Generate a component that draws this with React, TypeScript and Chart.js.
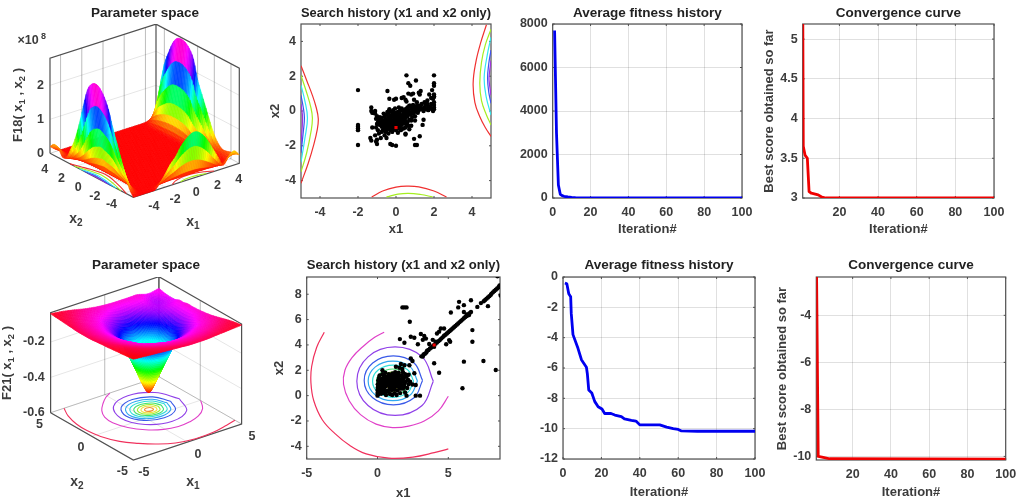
import { useEffect, useRef } from "react";
import { Chart, registerables } from "chart.js";
Chart.register(...registerables);

const FONT = '"Liberation Sans", Arial, sans-serif';
const INK = "#3c3c3c";
type P = [number, number];

/* ---------- data ---------- */
const f18Axis = [-5,-4.5,-4,-3.5,-3,-2.5,-2,-1.5,-1,-.5,0,.5,1,1.5,2,2.5,3,3.5,4,4.5,5];
const f18Grid: number[][] = [
  [0,0,0,0,0,.15,.38,.62,.8,1.05,1.22,1.33,1.33,1.2,.98,.68,.38,.1,.3,.42,.25],
  [.2,.05,0,0,0,.02,.04,.07,.1,.12,.14,.15,.15,.14,.11,.08,.04,.03,.08,.2,.22],
  [.55,.16,.01,0,0,0,0,0,0,0,0,0,0,0,0,0,0,.01,.01,.06,.2],
  [.95,.28,.02,0,0,0,0,0,0,0,0,0,0,0,0,0,0,0,.01,.05,.16],
  [1.35,.4,.03,0,0,0,0,0,0,0,0,0,0,0,0,0,0,0,.01,.05,.15],
  [1.75,.52,.04,0,0,0,0,0,0,0,0,0,0,0,0,0,0,0,.01,.08,.25],
  [2.2,.66,.05,0,0,0,0,0,0,0,0,0,0,0,0,0,0,0,.02,.14,.45],
  [2.5,.75,.06,0,0,0,0,0,0,0,0,0,0,0,0,0,0,0,.04,.23,.75],
  [2.68,.8,.06,0,0,0,0,0,0,0,0,0,0,0,0,0,0,0,.05,.34,1.1],
  [2.75,.85,.07,0,0,0,0,0,0,0,0,0,0,0,0,0,0,0,.07,.45,1.45],
  [2.68,.8,.06,0,0,0,0,0,0,0,0,0,0,0,0,0,0,0,.09,.56,1.8],
  [2.45,.72,.05,0,0,0,0,0,0,0,0,0,0,0,0,0,0,0,.12,.72,2.35],
  [1.9,.57,.04,0,0,0,0,0,0,0,0,0,0,0,0,0,0,0,.13,.8,2.6],
  [1.3,.39,.03,0,0,0,0,0,0,0,0,0,0,0,0,0,0,0,.14,.84,2.72],
  [.8,.24,.02,0,0,0,0,0,0,0,0,0,0,0,0,0,0,0,.14,.85,2.75],
  [.45,.14,.01,0,0,0,0,0,0,0,0,0,0,0,0,0,0,0,.13,.84,2.7],
  [.15,.05,0,0,0,0,0,0,0,0,0,0,0,0,0,0,0,0,.12,.78,2.5],
  [.08,.03,0,0,0,0,0,0,0,0,0,0,0,0,0,0,0,0,.11,.67,2.15],
  [.28,.1,.01,0,0,0,0,0,0,0,0,0,0,0,0,0,0,0,.09,.54,1.75],
  [.33,.12,.01,0,0,0,0,0,0,0,0,0,0,0,0,0,0,0,.05,.33,1.05],
  [.2,.07,0,0,0,0,0,0,0,0,0,0,0,0,0,0,0,0,.01,.06,.2],
];
const f21Axis = [-5,-4,-3,-2,-1,-.5,0,.5,1,1.5,2,2.5,3,4,5];
const f21Grid: number[][] = [
  [-.03,-.035,-.04,-.045,-.049,-.051,-.054,-.055,-.055,-.055,-.054,-.051,-.049,-.045,-.04],
  [-.035,-.042,-.048,-.057,-.066,-.07,-.072,-.073,-.074,-.073,-.072,-.07,-.066,-.057,-.048],
  [-.04,-.048,-.06,-.074,-.085,-.089,-.092,-.094,-.095,-.094,-.092,-.089,-.085,-.074,-.06],
  [-.045,-.057,-.074,-.09,-.103,-.112,-.121,-.127,-.129,-.127,-.121,-.112,-.103,-.09,-.074],
  [-.049,-.066,-.085,-.103,-.137,-.156,-.18,-.197,-.206,-.197,-.18,-.156,-.137,-.103,-.085],
  [-.051,-.07,-.089,-.112,-.156,-.191,-.238,-.27,-.283,-.27,-.238,-.191,-.156,-.112,-.089],
  [-.054,-.072,-.092,-.121,-.18,-.238,-.296,-.342,-.36,-.342,-.296,-.238,-.18,-.121,-.092],
  [-.055,-.073,-.094,-.127,-.197,-.27,-.342,-.41,-.446,-.41,-.342,-.27,-.197,-.127,-.094],
  [-.055,-.074,-.095,-.129,-.206,-.283,-.36,-.446,-.5,-.446,-.36,-.283,-.206,-.129,-.095],
  [-.055,-.073,-.094,-.127,-.197,-.27,-.342,-.41,-.446,-.41,-.342,-.27,-.197,-.127,-.094],
  [-.054,-.072,-.092,-.121,-.18,-.238,-.296,-.342,-.36,-.342,-.296,-.238,-.18,-.125,-.1],
  [-.051,-.07,-.089,-.112,-.156,-.191,-.238,-.27,-.283,-.27,-.238,-.191,-.156,-.122,-.1],
  [-.049,-.066,-.085,-.103,-.137,-.156,-.18,-.197,-.206,-.197,-.18,-.156,-.14,-.125,-.11],
  [-.045,-.057,-.074,-.09,-.103,-.112,-.121,-.127,-.129,-.127,-.121,-.118,-.115,-.13,-.11],
  [-.04,-.048,-.06,-.074,-.085,-.089,-.092,-.094,-.095,-.095,-.095,-.095,-.095,-.11,-.1],
];

const f18Contours: { color: string; pts: P[] }[] = [
  { color: "#f03030", pts: [[-5,2.6],[-4.68,1.7],[-4.4,.9],[-4.2,.2],[-4.09,-.45],[-4.15,-1.1],[-4.32,-1.9],[-4.62,-3],[-5,-4.15]] },
  { color: "#a5ee20", pts: [[-5,2.05],[-4.7,1.05],[-4.48,.2],[-4.4,-.4],[-4.46,-1.1],[-4.7,-2.4],[-5,-3.5]] },
  { color: "#30e8f0", pts: [[-5,1.48],[-4.8,.6],[-4.66,-.4],[-4.8,-1.6],[-5,-2.95]] },
  { color: "#3f50f0", pts: [[-5,.9],[-4.88,.2],[-4.82,-.4],[-4.88,-1.2],[-5,-2.4]] },
  { color: "#a030e0", pts: [[-5,.4],[-4.92,-.4],[-5,-1.9]] },
  { color: "#f03030", pts: [[4.76,4.96],[4.45,3.9],[4.2,2.8],[4.06,1.6],[4.15,.5],[4.4,-.3],[4.7,-.95],[5,-1.46]] },
  { color: "#a5ee20", pts: [[5,4.7],[4.7,3.8],[4.5,2.8],[4.41,1.6],[4.5,.6],[4.75,-.2],[5,-.8]] },
  { color: "#30e8f0", pts: [[5,4.24],[4.8,3.2],[4.64,1.9],[4.75,.8],[5,-.23]] },
  { color: "#3f50f0", pts: [[5,3.5],[4.88,2.7],[4.82,1.9],[4.88,1.1],[5,.44]] },
  { color: "#a030e0", pts: [[5,2.9],[4.92,2.2],[4.9,1.77],[5,.9]] },
  { color: "#f03030", pts: [[-1.28,-4.94],[-.7,-4.6],[0,-4.38],[.56,-4.32],[1.2,-4.36],[2,-4.6],[2.66,-4.94]] },
  { color: "#a5ee20", pts: [[-.5,-4.94],[.1,-4.78],[.65,-4.73],[1.3,-4.8],[1.93,-4.94]] },
];

const ring = (xs: number[], ys: number[]): P[] => xs.map((x, i) => [x, ys[i]] as P);
const f21Contours: { color: string; pts: P[] }[] = [
  { color: "#f0305c", pts: [[-3.76,5],[-4.3,3.8],[-4.65,2.3],[-4.7,1],[-4.5,-.4],[-3.9,-1.9],[-3,-3],[-2,-3.9],[-.8,-4.6],[.8,-4.93],[2.5,-4.85],[4,-4.5],[5,-4.2]] },
  { color: "#e040c8", pts: [[5,-.05],[4.3,-1.2],[3.3,-2],[2.2,-2.4],[1.06,-2.52],[-.1,-2.25],[-1.2,-1.5],[-2,-.4],[-2.4,.9],[-2.3,2],[-1.8,3],[-1,3.9],[-.2,4.6],[.47,5]] },
  { color: "#9040e8", pts: ring([3.94,3.15,1.24,-.67,-1.46,-.67,1.24,3.15,3.94],[1.14,3.06,3.84,3.06,1.14,-.78,-1.56,-.78,1.14]) },
  { color: "#3a5ae8", pts: ring([3.18,2.58,1.12,-.34,-.94,-.34,1.12,2.58,3.18],[1.2,2.57,3.13,2.57,1.2,-.17,-.73,-.17,1.2]) },
  { color: "#30a8f0", pts: ring([2.82,2.31,1.08,-.15,-.66,-.15,1.08,2.31,2.82],[1.16,2.27,2.72,2.27,1.16,.05,-.4,.05,1.16]) },
  { color: "#30e0d8", pts: ring([2.55,2.13,1.1,.07,-.35,.07,1.1,2.13,2.55],[1.14,2.04,2.41,2.04,1.14,.24,-.13,.24,1.14]) },
  { color: "#40e070", pts: ring([2.23,1.9,1.08,.26,-.07,.26,1.08,1.9,2.23],[1.1,1.81,2.1,1.81,1.1,.39,.1,.39,1.1]) },
  { color: "#a0ee30", pts: ring([1.96,1.7,1.08,.46,.2,.46,1.08,1.7,1.96],[1.08,1.63,1.85,1.63,1.08,.53,.31,.53,1.08]) },
  { color: "#f0e040", pts: ring([1.7,1.52,1.08,.64,.46,.64,1.08,1.52,1.7],[1.06,1.45,1.61,1.45,1.06,.67,.51,.67,1.06]) },
  { color: "#f09030", pts: ring([1.43,1.33,1.08,.83,.73,.83,1.08,1.33,1.43],[1.06,1.27,1.36,1.27,1.06,.85,.76,.85,1.06]) },
];

const history18: P[] = [
  [-2,1.2],[-2,-.8],[-2,-.9],[-2,-1],[-2,-1.1],[-2,-1.95],[-.45,1.15],[-.35,.7],[-.1,.65],[0,.7],[.3,.75],[.4,.8],[.55,2.05],[.65,1.6],[.75,1.45],[1.05,1.75],[2,2.05],[2,1.6],[2,1.45],[1.9,1.2],[2,.95],[2,.85],[2,.8],[1.95,.7],[1.75,.95],[1.85,.75],[2,.5],[2,.35],[2,.2],[2,.1],[1.95,0],[1.85,.4],[1.7,.25],[1.3,1.15],[1.2,1.05],[1.25,.95],[.9,1],[.8,.95],[.65,1],[.95,.65],[1.1,.5],[.7,.3],[.55,.55],[.5,.65],
  [-1.3,.2],[-1.3,0],[-1.25,-.1],[-1.1,-.15],[-1.1,0],[-1.05,-.45],[-1.2,-.1],[-1.25,-.95],[-1.35,-1.55],[-1.3,-1.7],[-1.1,-1.4],[-1,-1.65],[-1,-1.9],[-1.05,-1.75],[-.9,-1.3],[-.8,-1.55],[-.75,-1.2],[-.5,-1.1],[-.4,-1.3],[-.5,-1.55],[-.6,-1.4],[-.3,-1.9],[-.2,-1.95],[0,-2],[1,-1.95],[1.1,-1.95],[.95,-1.6],[1.25,-1.45],[.5,-1.35],[.5,-1.3],[1.4,-.8],[1.45,-.5],
  [-.9,-.5],[-.85,-.8],[-.8,-.65],[-.75,-.9],[-.7,-.55],[-.7,-.75],[-.65,-1],[-.6,-.3],[-.6,-.6],[-.6,-.85],[-.55,-.45],[-.55,-.7],[-.5,-.95],[-.5,-.2],[-.5,-.6],[-.45,-.8],[-.4,-.1],[-.4,-.35],[-.4,-.55],[-.4,-.75],[-.4,-1],[-.35,-.9],[-.3,-.25],[-.3,-.45],[-.3,-.65],[-.3,-.85],[-.3,-1.1],[-.25,-.05],[-.2,-.3],[-.2,-.55],[-.2,-.75],[-.2,-.95],[-.2,-1.2],[-.15,-.15],[-.1,-.4],[-.1,-.6],[-.1,-.85],[-.1,-1.05],[-.05,-.25],[0,-.1],[0,-.35],[0,-.5],[0,-.7],[0,-.85],[0,-1.1],[.05,-.2],[.1,-.05],[.1,-.4],[.1,-.6],[.1,-.8],[.1,-1],[.1,-1.25],[.15,-.3],[.2,0],[.2,-.15],[.2,-.5],[.2,-.7],[.2,-.9],[.25,-1.1],[.3,-.25],[.3,-.4],[.3,-.6],[.3,-.8],[.35,.05],[.4,-.1],[.4,-.3],[.4,-.5],[.4,-.7],[.4,-1],[.45,-.2],[.5,.1],[.5,-.05],[.5,-.4],[.5,-.6],[.55,-.8],[.6,-.15],[.6,-.3],[.65,.05],[.7,-.05],[.7,-.5],[.75,-.2],[.8,.15],[.8,-.1],[.85,-.35],[.9,.05],[.9,-.15],[.95,.2],[1,0],[1,-.05],[1,-.3],[1.05,.2],[1.1,.1],[1.15,-.1],[1.2,.3],[1.2,.05],[1.25,.2],[1.3,.3],[1.35,.1],[1.4,.15],[1.45,0],[1.5,.2],[1.55,.35],[1.6,.1],[1.65,.4],[1.7,.05],[.8,-.85],[.7,-1.05],[.5,-.95],[-1,-.75],[-1.05,-.95],[-.95,-1.1],
  [-1,-.3],[-.95,-.65],[-.85,-.35],[-.75,-.4],[-.65,-.15],[-.7,-1.1],[-.55,-1.2],[-.45,-.05],[-.35,.1],[-.15,.05],[-.05,.15],[.15,.2],[.3,.15],[.6,.2],[.75,.3],[.9,.35],[1.1,.3],[1.35,.4],[1.5,.5],[1.65,.6],[1.8,.2],[1.9,.1],[.3,-1.05],[.6,-.65],[.8,-.55],[1,-.55],[.65,-.85],
];
const best18: P[] = [[0,-.95]];

const history21: P[] = [
  [8.47,9.42],[8.7,7.9],[7.8,7.06],[6.6,7.53],[5.76,7.4],[6.1,7.14],[5.7,6.96],[6.1,6.6],[5.18,6.56],[1.76,6.96],[2.05,6.96],[1.9,6.96],[2.28,5.83],[6.7,5.17],[6.7,4.25],[4.47,5.3],[4.7,5.3],[4.35,5.05],[4.2,4.9],[2.35,4.65],[2.6,4.57],[3.06,4.86],[3.3,4.7],[3.42,4.5],[3.2,4.4],[2.85,4.05],[1.58,4.46],[1.9,4.17],[3.9,4.4],[3.65,4.07],[4,3.85],[4.85,4.05],[5.06,4.38],[5.13,4.25],[4.1,4.25],[6.1,2.68],[7.48,2.73],[8.35,2.02],[6,.58],[4,2.55],[4.35,1.8],[2.35,2.94],[2.47,2.73],[1.65,2.5],[1.9,2.4],[2.25,2.4],[1.3,2.28],[.35,2],[2.6,1.76],[2.7,.84],[2.47,.88],[2.7,0],[3,0],[2.05,0],[0,0],[.05,.1],[.05,.3],[.1,.5],
  [3.1,3.1],[3.2,3.08],[3.25,3.25],[3.35,3.3],[3.45,3.4],[3.5,3.55],[3.6,3.6],[3.7,3.72],[3.8,3.8],[3.9,3.9],[4,4],[4.1,4.1],[4.2,4.2],[4.3,4.3],[4.4,4.38],[4.5,4.5],[4.6,4.6],[4.7,4.72],[4.8,4.8],[4.9,4.9],[5,5],[5.1,5.1],[5.2,5.2],[5.3,5.3],[5.4,5.4],[5.5,5.5],[5.6,5.6],[5.7,5.7],[5.8,5.8],[5.9,5.9],[6,6],[6.1,6.1],[6.2,6.2],[6.3,6.28],[6.4,6.4],[6.5,6.5],[6.6,6.6],[6.45,6.35],[6.3,6.4],[7.05,7],[7.3,7.3],[7.5,7.45],[7.6,7.55],[7.7,7.65],[7.8,7.75],[7.9,7.85],[8,7.95],[8.05,8.05],[8.15,8.15],[8.25,8.25],[8.35,8.35],[8.45,8.45],[8.55,8.55],[8.62,8.7],
  [.1,.7],[.1,.9],[.15,1.1],[.2,.4],[.2,.6],[.25,.85],[.25,1.05],[.3,1.3],[.3,.3],[.35,.55],[.35,.75],[.4,.95],[.4,1.15],[.4,1.4],[.45,.45],[.5,.65],[.5,.85],[.5,1.05],[.5,1.25],[.55,1.45],[.6,.75],[.6,.95],[.6,1.15],[.6,1.35],[.65,.35],[.7,.85],[.7,1.05],[.7,1.25],[.7,1.5],[.75,1.4],[.8,.95],[.8,1.15],[.8,1.3],[.85,.7],[.85,1.5],[.9,1.05],[.9,1.2],[.95,.85],[.95,1.4],[1,1],[1,1.15],[1,1.3],[1.05,.05],[1.05,.7],[1.1,1.05],[1.1,1.25],[1.15,.9],[1.15,1.45],[1.2,1.1],[1.2,1.3],[1.25,.75],[1.3,1],[1.3,1.2],[1.3,1.55],[1.35,.05],[1.4,.95],[1.4,1.4],[1.45,1.15],[1.5,.7],[1.5,1.55],[1.55,1.05],[1.6,1.3],[1.65,.9],[1.7,1.6],[1.75,1.15],[1.8,.55],[1.85,1.35],[1.9,.95],[1.95,.25],[2,1.1],[2.05,1.5],[2.1,.6],[2.15,1.25],[.6,.05],[.85,.15],[1.6,.2],[1.2,.2],[.95,.1],[1.55,2.2],[1.75,2.1],
  [0,.2],[0,.45],[.02,.65],[.02,.9],[.05,1.2],[.1,1.4],[.15,1.6],[.35,1.7],[.55,1.8],[.8,1.7],[1.05,1.75],[1.25,1.85],[1.5,1.8],[1.8,1.85],[1.95,1.7],[2.2,1.65],[.25,.15],[.45,.2],[.75,.4],[1,.45],[1.2,.5],[1.4,.4],[1.6,.55],[1.75,.8],[1.9,.7],[2.2,.9],[2.3,1.1],[.9,.55],[1.35,.75],[1.6,.85],[1.8,1.45],[1.45,1.65],[1.1,1.6],[.95,1.6],[.5,1.55],
];
const best21: P[] = [[4,4]];

const fitIter1 = [1,2,3,4,5,6,8,10,12,15,20,30,100];
const fitVal1 = [7700,3000,600,170,110,80,50,30,14,5,2,1,0];
const convIter1 = [1,1.3,2.2,3.4,4.3,5.5,9,11,13,100];
const convVal1 = [5.6,3.65,3.54,3.5,3.08,3.06,3.04,3.01,3,3];
const fitIter2 = [1,2,3,4,4.3,5.2,7.8,9.6,12.2,12.7,13.4,15,16.5,18.3,20.3,21.7,25,27,30.4,32,35.6,38,40,50.4,54,57.4,60,61.7,70,100];
const fitVal2 = [-.4,-.45,-1.1,-1.3,-2.4,-3.8,-4.7,-5.45,-5.95,-6.4,-7.45,-7.65,-8.2,-8.55,-8.7,-9,-9,-9.1,-9.2,-9.35,-9.45,-9.5,-9.75,-9.75,-9.9,-10,-10.05,-10.15,-10.17,-10.17];
const convIter2 = [1,2,4,8,100];
const convVal2 = [-1,-10,-10.03,-10.1,-10.12];

const xyTicks = [-4,-2,0,2,4];
const iterTicks = [0,20,40,60,80,100];
const iterTicksNoZero = [20,40,60,80,100];

/* ---------- shared drawing helpers ---------- */
const zip = (a: number[], b: number[]) => a.map((x, i) => ({ x, y: b[i] }));
const frame = {
  id: "frame",
  beforeDatasetsDraw(chart: any) {
    const { ctx, chartArea: a, scales } = chart;
    ctx.save();
    ctx.strokeStyle = "#505050";
    ctx.lineWidth = 1.2;
    ctx.strokeRect(a.left, a.top, a.right - a.left, a.bottom - a.top);
    ctx.lineWidth = 1;
    ctx.beginPath();
    for (const t of scales.x.ticks) {
      const p = scales.x.getPixelForValue(t.value);
      ctx.moveTo(p, a.bottom); ctx.lineTo(p, a.bottom - 2);
      ctx.moveTo(p, a.top); ctx.lineTo(p, a.top + 2);
    }
    for (const t of scales.y.ticks) {
      const p = scales.y.getPixelForValue(t.value);
      ctx.moveTo(a.left, p); ctx.lineTo(a.left + 2, p);
      ctx.moveTo(a.right, p); ctx.lineTo(a.right - 2, p);
    }
    ctx.stroke();
    ctx.restore();
  },
};

const titleOpts = (text: string, top: number, titleCy: number, plotTop: number) => ({
  display: true, text, color: "#222", fullSize: false,
  font: { family: FONT, size: 13.5, weight: "bold" as const },
  padding: { top: titleCy - top - 8.1, bottom: plotTop - titleCy - 8.1 },
});

interface Panel2D {
  title: string; L: number; R: number; T: number; B: number; canvasTop: number; titleCy: number;
  xMin: number; xMax: number; xTicks: number[]; xTitle: string; xTitleCy: number;
  yMin: number; yMax: number; yTicks: number[]; yTitle?: string; yTitleX?: number;
  grid: boolean; datasets: any[];
}

function Chart2D({ p }: { p: Panel2D }) {
  const ref = useRef<HTMLCanvasElement>(null);
  const cl = Math.round(p.yTitleX !== undefined ? p.yTitleX - 7.8 : p.L - 50);
  const xH = p.xTitleCy - p.B + 7.8;
  const cw = Math.ceil(p.R + 26 - cl);
  const ch = Math.ceil(p.B + xH) - p.canvasTop;
  useEffect(() => {
    const scale = (min: number, max: number, ticks: number[], title: string | undefined, fit: (s: any) => void, pad: number) => ({
      type: "linear" as const, min, max,
      afterBuildTicks: (s: any) => { s.ticks = ticks.map((value) => ({ value })); },
      afterFit: fit,
      border: { display: false },
      grid: { display: p.grid, drawTicks: false, color: "rgba(0,0,0,0.12)", lineWidth: 1 },
      ticks: {
        color: INK, padding: pad, autoSkip: false, maxRotation: 0,
        font: { family: FONT, size: 12.5, weight: "bold" as const },
        callback: (v: any) => String(v),
      },
      title: {
        display: !!title, text: title, color: INK, padding: 0,
        font: { family: FONT, size: 13, weight: "bold" as const },
      },
    });
    const c = new Chart(ref.current!, {
      type: "scatter",
      data: { datasets: p.datasets },
      plugins: [frame],
      options: {
        animation: false, responsive: false,
        layout: { autoPadding: false, padding: { left: 0, top: 0, right: cl + cw - p.R, bottom: p.canvasTop + ch - p.B - xH } },
        plugins: { legend: { display: false }, tooltip: { enabled: false }, title: titleOpts(p.title, p.canvasTop, p.titleCy, p.T) },
        scales: {
          x: scale(p.xMin, p.xMax, p.xTicks, p.xTitle, (s) => { s.height = xH; }, 7),
          y: scale(p.yMin, p.yMax, p.yTicks, p.yTitle, (s) => { s.width = p.L - cl; }, 5),
        },
      } as any,
    });
    return () => c.destroy();
  }, []);
  return <canvas ref={ref} width={cw} height={ch} style={{ position: "absolute", left: cl, top: p.canvasTop, width: cw, height: ch }} />;
}

/* ---------- 3D panels: a height table seen through the chart's x / y scales ---------- */
function catmull(a: number, b: number, c: number, d: number, t: number) {
  return 0.5 * (2 * b + (c - a) * t + (2 * a - 5 * b + 4 * c - d) * t * t + (3 * b - a - 3 * c + d) * t * t * t);
}
function sample(g: number[][], v: number, u: number, lo: number, hi: number) {
  const r = g.length - 1, c = g[0].length - 1;
  const i = Math.min(Math.floor(v), r - 1), j = Math.min(Math.floor(u), c - 1);
  const at = (a: number, b: number): number => {
    if (a < 0) return 2 * at(0, b) - at(1, b);
    if (a > r) return 2 * at(r, b) - at(r - 1, b);
    if (b < 0) return 2 * at(a, 0) - at(a, 1);
    if (b > c) return 2 * at(a, c) - at(a, c - 1);
    return g[a][b];
  };
  const row = (k: number) => catmull(at(k, j - 1), at(k, j), at(k, j + 1), at(k, j + 2), u - j);
  const z = catmull(row(i - 1), row(i), row(i + 1), row(i + 2), v - i);
  return Math.max(lo, Math.min(hi, z));
}
function coordAt(axis: number[], t: number) {
  const i = Math.min(Math.floor(t), axis.length - 2);
  return axis[i] + (axis[i + 1] - axis[i]) * (t - i);
}

function rich(ctx: any, parts: [string, boolean][], x: number, y: number, rot: number, size: number) {
  ctx.save();
  ctx.translate(x, y);
  ctx.rotate(rot);
  ctx.fillStyle = INK;
  ctx.textBaseline = "middle";
  ctx.textAlign = "left";
  const fontOf = (sub: boolean) => `bold ${sub ? size * 0.72 : size}px ${FONT}`;
  let w = 0;
  for (const [s, sub] of parts) { ctx.font = fontOf(sub); w += ctx.measureText(s).width; }
  let cx = -w / 2;
  for (const [s, sub] of parts) {
    ctx.font = fontOf(sub);
    ctx.fillText(s, cx, sub ? size * 0.32 : 0);
    cx += ctx.measureText(s).width;
  }
  ctx.restore();
}

function Chart3D({ p }: { p: any }) {
  const ref = useRef<HTMLCanvasElement>(null);
  useEffect(() => {
    const plotTop = p.plotTop;
    const proj = (x1: number, x2: number, z: number) => ({
      x: p.F[0] + (x1 + 5) * p.ax[0] + (x2 + 5) * p.bx[0],
      y: p.F[1] + (x1 + 5) * p.ax[1] + (x2 + 5) * p.bx[1] - (z - p.z0) * p.zK,
    });
    const gap = { x: NaN, y: NaN };
    const seg = (...pts: { x: number; y: number }[]) => [...pts, gap];
    const { z0, zTop } = p;
    const dark = [
      ...seg(proj(-5,5,z0), proj(-5,-5,z0), proj(5,-5,z0), proj(5,-5,zTop), proj(5,5,zTop), proj(-5,5,zTop), proj(-5,5,z0)),
      ...seg(proj(5,5,zTop), proj(5,5,z0)),
    ];
    const light: any[] = [...seg(proj(-5,5,z0), proj(5,5,z0), proj(5,-5,z0))];
    for (const t of p.gridTicks) {
      light.push(...seg(proj(t,5,zTop), proj(t,5,z0), proj(t,-5,z0)));
      light.push(...seg(proj(5,t,zTop), proj(5,t,z0), proj(-5,t,z0)));
    }
    for (const z of p.zTicks) light.push(...seg(proj(-5,5,z), proj(5,5,z), proj(5,-5,z)));

    const rows = (p.grid.length - 1) * p.sub + 1, cols = (p.grid[0].length - 1) * p.sub + 1;
    const verts: { x: number; y: number; z: number }[] = [];
    for (let i = 0; i < rows; i++) {
      for (let j = 0; j < cols; j++) {
        const z = sample(p.grid, i / p.sub, j / p.sub, p.hueLo, p.hueHi);
        verts.push({ ...proj(coordAt(p.axis, j / p.sub), coordAt(p.axis, i / p.sub), z), z });
      }
    }
    const surface = {
      id: "surface",
      afterDatasetsDraw(chart: any) {
        const { ctx, scales: { x: X, y: Y } } = chart;
        const px = (k: number) => [X.getPixelForValue(verts[k].x), Y.getPixelForValue(verts[k].y)];
        ctx.save();
        ctx.lineWidth = 0.6;
        ctx.lineJoin = "round";
        for (let i = rows - 2; i >= 0; i--) {
          for (let j = cols - 2; j >= 0; j--) {
            const a = i * cols + j, b = a + 1, c = a + cols + 1, d = a + cols;
            const z = (verts[a].z + verts[b].z + verts[c].z + verts[d].z) / 4;
            const hue = (360 * (z - p.hueLo)) / (p.hueHi - p.hueLo);
            const col = `hsl(${hue},100%,50%)`;
            ctx.fillStyle = col; ctx.strokeStyle = col;
            ctx.beginPath();
            for (const k of [a, b, c, d]) { const [u, v] = px(k); ctx.lineTo(u, v); }
            ctx.closePath(); ctx.fill(); ctx.stroke();
          }
        }
        ctx.restore();
        const put = (s: string, q: { x: number; y: number }, dx: number, dy: number, align: string) => {
          ctx.save();
          ctx.font = `bold 12.5px ${FONT}`; ctx.fillStyle = INK; ctx.textAlign = align; ctx.textBaseline = "middle";
          ctx.fillText(s, X.getPixelForValue(q.x) + dx, Y.getPixelForValue(q.y) + dy);
          ctx.restore();
        };
        for (const t of p.x1Labels) put(String(t), proj(t, -5, z0), p.x1Off[0], p.x1Off[1], "center");
        for (const t of p.x2Labels) put(String(t), proj(-5, t, z0), p.x2Off[0], p.x2Off[1], "center");
        for (const t of p.zTicks) put(p.zFmt(t), proj(-5, 5, t), p.zLabelX, 0, "right");
        const ox = p.canvasTop;
        if (p.multiplier) {
          rich(ctx, [["×10", false]], 28, 41 - ox, 0, 12.5);
          ctx.save(); ctx.font = `bold 9px ${FONT}`; ctx.fillStyle = INK; ctx.textBaseline = "middle"; ctx.fillText("8", 41, 37 - ox); ctx.restore();
        }
        rich(ctx, [["x", false], ["1", true]], p.x1Name[0], p.x1Name[1] - ox, 0, 14);
        rich(ctx, [["x", false], ["2", true]], p.x2Name[0], p.x2Name[1] - ox, 0, 14);
        rich(ctx, [[p.zFn + "( x", false], ["1", true], [" , x", false], ["2", true], [" )", false]], p.zName[0], p.zName[1] - ox, -Math.PI / 2, 13);
      },
    };
    const line = (data: any[], color: string, width: number, tension = 0) => ({
      data, showLine: true, borderColor: color, borderWidth: width, pointRadius: 0, tension, spanGaps: false,
    });
    const c = new Chart(ref.current!, {
      type: "scatter",
      data: {
        datasets: [
          ...p.contours.map((k: any) => line(k.pts.map(([a, b]: P) => proj(a, b, z0)), k.color, 1.1, 0.4)),
          line(dark, "#505050", 1.2),
          line(light, "rgba(0,0,0,0.1)", 1),
          { label: "surface", data: verts, showLine: false, pointRadius: 0 },
        ],
      },
      plugins: [surface],
      options: {
        animation: false, responsive: false,
        layout: { autoPadding: false, padding: 0 },
        plugins: { legend: { display: false }, tooltip: { enabled: false }, title: titleOpts(p.title, p.canvasTop, p.titleCy, plotTop) },
        scales: {
          x: { type: "linear", display: false, min: 0, max: p.width },
          y: { type: "linear", display: false, reverse: true, min: plotTop, max: p.canvasTop + p.height },
        },
      } as any,
    });
    return () => c.destroy();
  }, []);
  return <canvas ref={ref} width={p.width} height={p.height} style={{ position: "absolute", left: 0, top: p.canvasTop, width: p.width, height: p.height }} />;
}

/* ---------- panels ---------- */
const scatterSets = (contours: { color: string; pts: P[] }[], hist: P[], best: P[]) => [
  { data: best.map(([x, y]) => ({ x, y })), pointStyle: "rect", pointRadius: 2.2, pointBackgroundColor: "#f00000", pointBorderWidth: 0 },
  { data: hist.map(([x, y]) => ({ x, y })), pointRadius: 2.2, pointBackgroundColor: "#000", pointBorderWidth: 0 },
  ...contours.map((k) => ({ data: k.pts.map(([x, y]) => ({ x, y })), showLine: true, borderColor: k.color, borderWidth: 1.2, pointRadius: 0, tension: 0.4 })),
];
const curve = (xs: number[], ys: number[], color: string) => [{ data: zip(xs, ys), showLine: true, borderColor: color, borderWidth: 2.8, pointRadius: 0, tension: 0, borderJoinStyle: "round" }];

const panels2D: Panel2D[] = [
  { title: "Search history (x1 and x2 only)", L: 301, R: 491, T: 24, B: 198, canvasTop: 0, titleCy: 13, xMin: -5, xMax: 5, xTicks: xyTicks, xTitle: "x1", xTitleCy: 229, yMin: -5, yMax: 5, yTicks: xyTicks, yTitle: "x2", yTitleX: 275.7, grid: false, datasets: scatterSets(f18Contours, history18, best18) },
  { title: "Average fitness history", L: 552.7, R: 742, T: 24, B: 198, canvasTop: 0, titleCy: 13, xMin: 0, xMax: 100, xTicks: iterTicks, xTitle: "Iteration#", xTitleCy: 229, yMin: 0, yMax: 8000, yTicks: [0,2000,4000,6000,8000], grid: true, datasets: curve(fitIter1, fitVal1, "#0000f0") },
  { title: "Convergence curve", L: 802.7, R: 994, T: 24, B: 198, canvasTop: 0, titleCy: 13, xMin: 1, xMax: 100, xTicks: iterTicksNoZero, xTitle: "Iteration#", xTitleCy: 229, yMin: 3, yMax: 5.19, yTicks: [3,3.5,4,4.5,5], yTitle: "Best score obtained so far", yTitleX: 770, grid: true, datasets: curve(convIter1, convVal1, "#f00000") },
  { title: "Search history (x1 and x2 only)", L: 306.7, R: 500, T: 277, B: 459, canvasTop: 250, titleCy: 265.7, xMin: -5, xMax: 8.65, xTicks: [-5,0,5], xTitle: "x1", xTitleCy: 493, yMin: -5, yMax: 9.36, yTicks: [-4,-2,0,2,4,6,8], yTitle: "x2", yTitleX: 280, grid: false, datasets: scatterSets(f21Contours, history21, best21) },
  { title: "Average fitness history", L: 563, R: 755, T: 277, B: 459, canvasTop: 250, titleCy: 265.7, xMin: 0, xMax: 100, xTicks: iterTicks, xTitle: "Iteration#", xTitleCy: 492, yMin: -12, yMax: 0, yTicks: [-12,-10,-8,-6,-4,-2,0], grid: true, datasets: curve(fitIter2, fitVal2, "#0000f0") },
  { title: "Convergence curve", L: 816.3, R: 1005.7, T: 277, B: 460, canvasTop: 250, titleCy: 265.7, xMin: 1, xMax: 100, xTicks: iterTicksNoZero, xTitle: "Iteration#", xTitleCy: 492, yMin: -10.153, yMax: -2.37, yTicks: [-10,-8,-6,-4], yTitle: "Best score obtained so far", yTitleX: 782.7, grid: true, datasets: curve(convIter2, convVal2, "#f00000") },
];

const panels3D: any[] = [
  { title: "Parameter space", width: 290, canvasTop: 0, height: 240, titleCy: 13, plotTop: 24,
    F: [133.3,197.3], ax: [10.6,-3.4], bx: [-8.33,-4.4], zK: 34, z0: 0, zTop: 2.8, hueLo: 0, hueHi: 2.8,
    axis: f18Axis, grid: f18Grid, sub: 3, contours: f18Contours, gridTicks: xyTicks, x1Labels: xyTicks, x2Labels: xyTicks,
    zTicks: [0,1,2], zFmt: String, x1Off: [10,12.5], x2Off: [-13.5,12], zLabelX: -6, multiplier: true,
    x1Name: [193,222], x2Name: [76,219], zName: [18,105], zFn: "F18" },
  { title: "Parameter space", width: 292, canvasTop: 250, height: 240, titleCy: 265.7, plotTop: 277,
    F: [133.3,460], ax: [10.83,-3.6], bx: [-8.27,-4.73], zK: 176.7, z0: -0.6, zTop: -0.034, hueLo: -0.5, hueHi: -0.03,
    axis: f21Axis, grid: f21Grid, sub: 5, contours: f21Contours, gridTicks: [-5,0,5], x1Labels: [-5,0,5], x2Labels: [-5,0,5],
    zTicks: [-0.6,-0.4,-0.2], zFmt: (v: number) => v.toFixed(1), x1Off: [10.5,13], x2Off: [-11,11.5], zLabelX: -6,
    x1Name: [193,482], x2Name: [77,482], zName: [7,363], zFn: "F21" },
];

export default function App() {
  return (
    <div style={{ position: "absolute", left: 0, top: 0, width: 1021, height: 501, overflow: "hidden", background: "#fff", filter: "blur(0.45px)" }}>
      {panels3D.map((p, i) => <Chart3D key={i} p={p} />)}
      {panels2D.map((p, i) => <Chart2D key={i} p={p} />)}
    </div>
  );
}
